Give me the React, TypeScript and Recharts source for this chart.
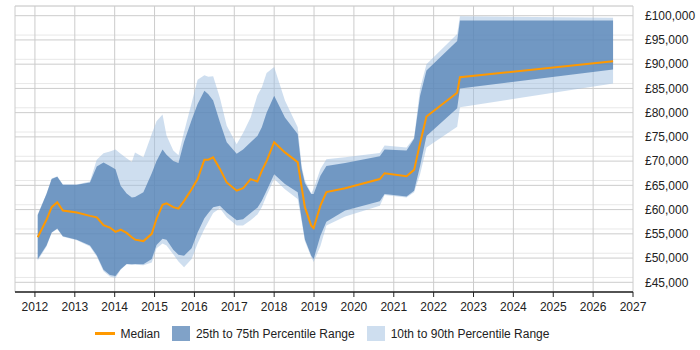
import React from "react";
import {
  ComposedChart,
  Area,
  Line,
  XAxis,
  YAxis,
  CartesianGrid,
} from "recharts";

// sample dates as fractional years
const years = [
  2012.07, 2012.29, 2012.42, 2012.56, 2012.7, 2013.05, 2013.38, 2013.55, 2013.72, 2013.88,
  2014.02, 2014.15, 2014.3, 2014.43, 2014.51, 2014.72, 2014.93, 2015.05, 2015.2, 2015.3,
  2015.47, 2015.6, 2015.74, 2015.93, 2016.08, 2016.25, 2016.35, 2016.47, 2016.64, 2016.81,
  2017.06, 2017.22, 2017.41, 2017.58, 2017.69, 2017.81, 2018.0, 2018.27, 2018.59, 2018.69,
  2018.77, 2018.93, 2018.99, 2019.16, 2019.31, 2019.78, 2020.65, 2020.77, 2021.32, 2021.51,
  2021.66, 2021.82, 2022.59, 2022.66, 2026.5,
];

const p10 = [
  49500, 52400, 55200, 56000, 54400, 53700, 52400, 50300, 47300, 46200,
  45900, 47600, 48700, 48600, 48600, 48500, 49100, 52000, 53000, 52600,
  50800, 49300, 48100, 49800, 53000, 56000, 57500, 59300, 60300, 58400,
  56700, 56700, 57800, 59000, 60500, 62900, 66300, 64200, 62200, 57500,
  53500, 50200, 49200, 52500, 56700, 58600, 60800, 63000, 62500, 63600,
  67300, 72800, 77100, 81100, 86000,
];

const p25 = [
  49800, 52600, 55300, 56100, 54500, 53800, 52600, 50600, 47600, 46500,
  46300, 47700, 48800, 48700, 48800, 48700, 49800, 52700, 54000, 53800,
  51700, 50700, 50500, 52000, 55300, 58200, 59300, 60500, 60800, 59400,
  57800, 58000, 59300, 60400, 61800, 63900, 67300, 65300, 63600, 58000,
  53900, 50500, 49800, 54600, 57500, 59800, 61700, 63200, 62700, 63900,
  69000, 75200, 80900, 85000, 88900,
];

const median = [
  54300, 57900, 60500, 61500, 59800, 59400, 58700, 58400, 56800, 56300,
  55400, 55850, 55200, 54300, 53800, 53500, 55000, 58100, 61000, 61300,
  60500, 60200, 61800, 64200, 66300, 70300, 70300, 70800, 68400, 65600,
  63900, 64400, 66300, 65800, 68000, 70000, 73900, 71800, 69800, 64600,
  60500, 56700, 56200, 60800, 63600, 64400, 66300, 67500, 66900, 68200,
  73700, 79200, 84100, 87300, 90600,
];

const p75 = [
  58900, 63200, 66300, 66800, 65100, 65100, 65600, 68900, 69700, 69000,
  68300, 64900, 63300, 62500, 62600, 63600, 67500, 70000, 72400, 71300,
  70000, 69600, 74000, 78500, 81800, 84500, 83800, 82500, 78000, 73900,
  71500, 72400, 73900, 75200, 77000, 80000, 83500, 79000, 75600, 68400,
  65500, 63200, 63200, 67000, 69000, 69600, 71000, 72400, 72200, 74600,
  83500, 88700, 94800, 99000, 99000,
];

const p90 = [
  59000, 63300, 66400, 66900, 65200, 65200, 65800, 70300, 71600, 72000,
  72400, 71500, 70600, 69800, 71800, 70800, 75600, 78200, 79600, 75300,
  72200, 71200, 76000, 82000, 86800, 87700, 87400, 87500, 83000, 77300,
  73500, 75800, 79000, 83600, 85200, 88200, 89400, 82500, 77000, 69000,
  66000, 63300, 64300, 68400, 70400, 70800, 71700, 73200, 72800, 74800,
  85000, 90000, 96200, 99900, 99600,
];

const yearTicks = [
  2012, 2013, 2014, 2015, 2016, 2017, 2018, 2019, 2020, 2021, 2022, 2023, 2024,
  2025, 2026, 2027,
];
const salaryTicks = [
  45000, 50000, 55000, 60000, 65000, 70000, 75000, 80000, 85000, 90000, 95000,
  100000,
];
// faint lines every £1,000
const minorTicks = Array.from({ length: 60 }, (_, i) => 43000 + i * 1000);

const data = years.map((year, i) => ({
  year,
  outer: [p10[i], p90[i]],
  inner: [p25[i], p75[i]],
  median: median[i],
}));

const FONT = '"Liberation Sans", Arial, sans-serif';
const ORANGE = "#ff9900";
const INNER_FILL = "#4a7ab0";
const OUTER_FILL = "#9dbde0";

const formatPounds = (v: number) => "£" + v.toLocaleString("en-GB");

function LegendRow() {
  const item = { display: "flex", alignItems: "center", marginRight: 10 };
  return (
    <div
      style={{
        position: "absolute",
        top: 326,
        left: 15,
        width: 624,
        display: "flex",
        justifyContent: "center",
        fontFamily: FONT,
        fontSize: 12,
        color: "#222",
      }}
    >
      <div style={{ ...item, marginRight: 12 }}>
        <div style={{ width: 20, height: 3, background: ORANGE, marginRight: 6 }} />
        Median
      </div>
      <div style={{ ...item, marginRight: 12 }}>
        <div
          style={{
            width: 18,
            height: 15,
            background: INNER_FILL,
            opacity: 0.7,
            marginRight: 6,
          }}
        />
        25th to 75th Percentile Range
      </div>
      <div style={item}>
        <div
          style={{
            width: 18,
            height: 15,
            background: OUTER_FILL,
            opacity: 0.5,
            marginRight: 6,
          }}
        />
        10th to 90th Percentile Range
      </div>
    </div>
  );
}

export default function App() {
  return (
    <div style={{ position: "absolute", left: 0, top: 0, width: 700, height: 350 }}>
      <ComposedChart
        width={700}
        height={350}
        data={data}
        margin={{ top: 6, right: 0, bottom: 36, left: 15 }}
      >
        <CartesianGrid
          vertical={false}
          horizontalValues={minorTicks}
          stroke="#e8e8e8"
        />
        <CartesianGrid stroke="#cccccc" />
        <XAxis
          dataKey="year"
          type="number"
          domain={[2011.5, 2027]}
          ticks={yearTicks}
          allowDecimals={false}
          tickSize={5}
          tickMargin={5}
          tickLine={{ stroke: "#222" }}
          height={22}
          axisLine={{ stroke: "#222", strokeWidth: 1.5 }}
          tick={{ fontSize: 12, fill: "#222", fontFamily: FONT }}
        />
        <YAxis
          orientation="right"
          domain={[43000, 102000]}
          ticks={salaryTicks}
          tickFormatter={formatPounds}
          axisLine={false}
          tickLine={false}
          tickSize={0}
          tickMargin={12}
          width={67}
          tick={{ fontSize: 12, fill: "#222", fontFamily: FONT }}
        />
        <Area
          type="linear"
          dataKey="outer"
          stroke="none"
          fill={OUTER_FILL}
          fillOpacity={0.5}
          isAnimationActive={false}
          activeDot={false}
        />
        <Area
          type="linear"
          dataKey="inner"
          stroke="none"
          fill={INNER_FILL}
          fillOpacity={0.7}
          isAnimationActive={false}
          activeDot={false}
        />
        <Line
          type="linear"
          dataKey="median"
          stroke={ORANGE}
          strokeWidth={2}
          dot={false}
          isAnimationActive={false}
        />
      </ComposedChart>
      <LegendRow />
    </div>
  );
}
